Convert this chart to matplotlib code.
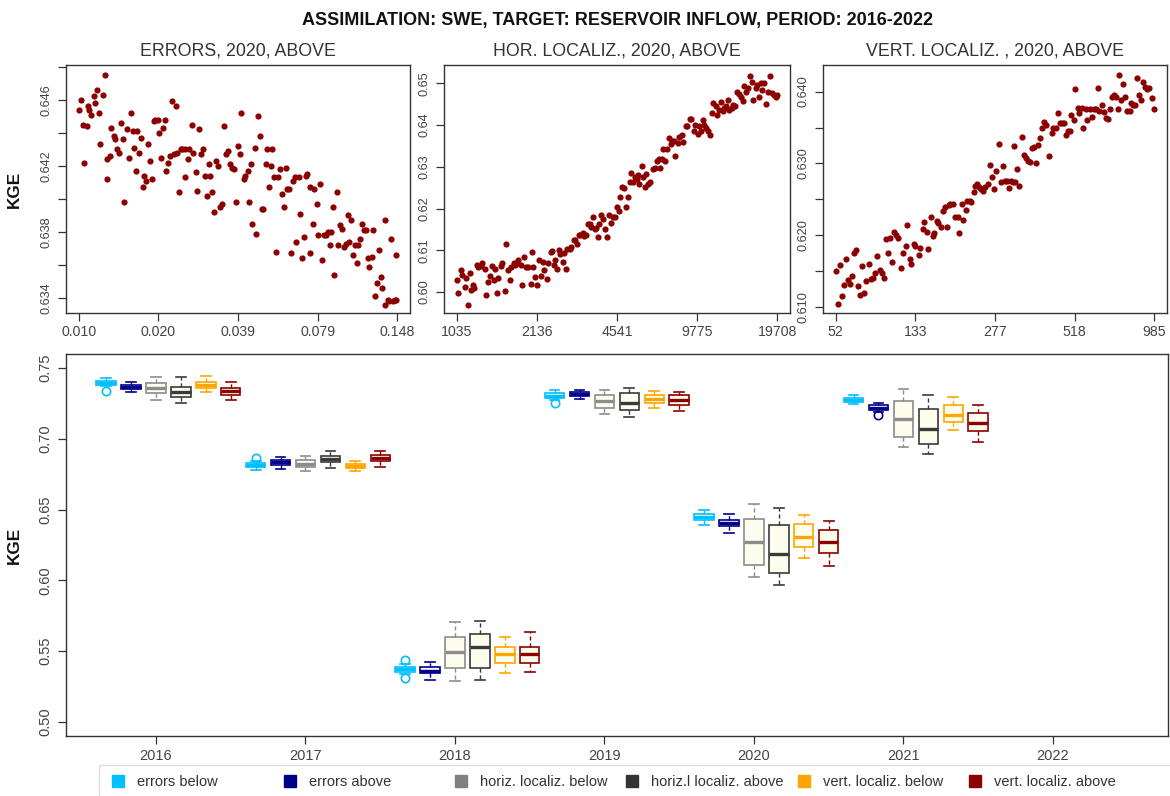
import numpy as np
import matplotlib
matplotlib.use('Agg')
import matplotlib.pyplot as plt
from matplotlib.lines import Line2D
from matplotlib.patches import Rectangle

plt.rcParams['font.family'] = ['Liberation Sans', 'DejaVu Sans']

# ---------------- top row: KGE against parameter value (2020, above) ----------------
# x is the position along the quantile axis, 0..4 = the five tick labels
err_ticklabels = ['0.010', '0.020', '0.039', '0.079', '0.148']
err_pos = [0.00, 0.03, 0.05, 0.07, 0.10, 0.11, 0.13, 0.15, 0.19, 0.21,
           0.23, 0.25, 0.27, 0.30, 0.33, 0.35, 0.36, 0.39, 0.41, 0.44,
           0.46, 0.48, 0.50, 0.53, 0.55, 0.57, 0.61, 0.63, 0.65, 0.68,
           0.69, 0.72, 0.73, 0.76, 0.78, 0.81, 0.82, 0.85, 0.87, 0.90,
           0.92, 0.94, 0.96, 0.99, 1.01, 1.03, 1.06, 1.08, 1.10, 1.12,
           1.15, 1.17, 1.19, 1.22, 1.23, 1.26, 1.28, 1.30, 1.33, 1.34,
           1.37, 1.39, 1.42, 1.44, 1.47, 1.49, 1.51, 1.53, 1.56, 1.58,
           1.61, 1.63, 1.65, 1.67, 1.70, 1.72, 1.75, 1.77, 1.80, 1.82,
           1.85, 1.87, 1.90, 1.92, 1.95, 1.97, 2.00, 2.02, 2.04, 2.07,
           2.09, 2.12, 2.14, 2.16, 2.18, 2.21, 2.23, 2.25, 2.28, 2.30,
           2.32, 2.35, 2.37, 2.39, 2.41, 2.43, 2.45, 2.48, 2.50, 2.53,
           2.55, 2.58, 2.60, 2.62, 2.64, 2.66, 2.69, 2.71, 2.73, 2.76,
           2.78, 2.80, 2.83, 2.85, 2.87, 2.90, 2.91, 2.94, 2.96, 2.99,
           3.01, 3.03, 3.05, 3.08, 3.10, 3.13, 3.15, 3.17, 3.19, 3.21,
           3.24, 3.26, 3.28, 3.31, 3.33, 3.35, 3.38, 3.40, 3.42, 3.44,
           3.47, 3.49, 3.51, 3.53, 3.56, 3.58, 3.61, 3.63, 3.65, 3.68,
           3.70, 3.72, 3.75, 3.77, 3.79, 3.81, 3.84, 3.85, 3.88, 3.90,
           3.92, 3.95, 3.97, 3.99, 3.98]
err_kge = [0.6454, 0.6460, 0.6445, 0.6422, 0.6444, 0.6456, 0.6454, 0.6451, 0.6462, 0.6458,
           0.6466, 0.6452, 0.6433, 0.6463, 0.6475, 0.6412, 0.6424, 0.6426, 0.6443, 0.6438,
           0.6436, 0.6430, 0.6428, 0.6446, 0.6436, 0.6398, 0.6442, 0.6425, 0.6452, 0.6441,
           0.6431, 0.6417, 0.6441, 0.6428, 0.6437, 0.6407, 0.6414, 0.6411, 0.6433, 0.6423,
           0.6412, 0.6447, 0.6448, 0.6448, 0.6440, 0.6425, 0.6443, 0.6448, 0.6417, 0.6422,
           0.6426, 0.6459, 0.6427, 0.6456, 0.6428, 0.6404, 0.6430, 0.6430, 0.6413, 0.6430,
           0.6424, 0.6430, 0.6445, 0.6428, 0.6416, 0.6405, 0.6442, 0.6427, 0.6430, 0.6414,
           0.6402, 0.6421, 0.6414, 0.6404, 0.6392, 0.6423, 0.6420, 0.6395, 0.6397, 0.6444,
           0.6427, 0.6429, 0.6421, 0.6419, 0.6418, 0.6398, 0.6432, 0.6427, 0.6452, 0.6412,
           0.6414, 0.6417, 0.6398, 0.6421, 0.6385, 0.6431, 0.6379, 0.6450, 0.6438, 0.6394,
           0.6394, 0.6421, 0.6430, 0.6407, 0.6420, 0.6430, 0.6413, 0.6368, 0.6413, 0.6418,
           0.6403, 0.6395, 0.6419, 0.6406, 0.6406, 0.6367, 0.6411, 0.6413, 0.6374, 0.6413,
           0.6391, 0.6364, 0.6377, 0.6414, 0.6415, 0.6407, 0.6367, 0.6385, 0.6406, 0.6397,
           0.6378, 0.6409, 0.6363, 0.6378, 0.6378, 0.6380, 0.6372, 0.6380, 0.6395, 0.6354,
           0.6404, 0.6372, 0.6384, 0.6382, 0.6371, 0.6373, 0.6390, 0.6374, 0.6387, 0.6366,
           0.6372, 0.6361, 0.6372, 0.6376, 0.6385, 0.6381, 0.6381, 0.6364, 0.6359, 0.6365,
           0.6381, 0.6341, 0.6349, 0.6369, 0.6353, 0.6346, 0.6387, 0.6336, 0.6339, 0.6338,
           0.6376, 0.6338, 0.6339, 0.6366, 0.6339]

hor_ticklabels = ['1035', '2136', '4541', '9775', '19708']
hor_pos = [0.00, 0.02, 0.05, 0.07, 0.10, 0.12, 0.14, 0.16, 0.18, 0.20,
           0.22, 0.25, 0.27, 0.30, 0.32, 0.35, 0.37, 0.39, 0.41, 0.44,
           0.46, 0.48, 0.50, 0.52, 0.55, 0.57, 0.60, 0.62, 0.64, 0.66,
           0.68, 0.71, 0.73, 0.75, 0.77, 0.80, 0.82, 0.84, 0.87, 0.89,
           0.92, 0.94, 0.95, 0.98, 1.00, 1.02, 1.05, 1.07, 1.09, 1.12,
           1.14, 1.17, 1.19, 1.21, 1.23, 1.25, 1.27, 1.29, 1.32, 1.34,
           1.36, 1.38, 1.41, 1.43, 1.46, 1.48, 1.50, 1.52, 1.54, 1.57,
           1.59, 1.61, 1.64, 1.66, 1.68, 1.70, 1.72, 1.74, 1.76, 1.78,
           1.80, 1.82, 1.85, 1.87, 1.90, 1.92, 1.95, 1.97, 2.00, 2.02,
           2.04, 2.06, 2.09, 2.11, 2.14, 2.16, 2.18, 2.20, 2.22, 2.25,
           2.26, 2.28, 2.31, 2.33, 2.35, 2.36, 2.39, 2.41, 2.45, 2.47,
           2.50, 2.52, 2.54, 2.56, 2.58, 2.60, 2.62, 2.65, 2.67, 2.69,
           2.71, 2.73, 2.76, 2.78, 2.81, 2.83, 2.86, 2.88, 2.91, 2.93,
           2.96, 2.98, 3.01, 3.02, 3.05, 3.07, 3.09, 3.11, 3.14, 3.16,
           3.19, 3.20, 3.23, 3.25, 3.27, 3.30, 3.32, 3.34, 3.36, 3.38,
           3.40, 3.43, 3.45, 3.47, 3.50, 3.52, 3.55, 3.57, 3.59, 3.61,
           3.64, 3.66, 3.69, 3.70, 3.73, 3.75, 3.77, 3.80, 3.81, 3.84,
           3.86, 3.89, 3.91, 3.94, 3.96, 3.98, 4.00]
hor_kge = [0.6028, 0.5998, 0.6053, 0.6041, 0.6012, 0.6033, 0.5970, 0.6047, 0.6006, 0.6017,
           0.6011, 0.6065, 0.6059, 0.6062, 0.6070, 0.6055, 0.5992, 0.6025, 0.6039, 0.6062,
           0.6028, 0.6055, 0.5998, 0.6035, 0.6062, 0.6069, 0.6002, 0.6116, 0.6053, 0.6028,
           0.6061, 0.6069, 0.6066, 0.6069, 0.6077, 0.6066, 0.6017, 0.6085, 0.6061, 0.6059,
           0.6020, 0.6095, 0.6059, 0.6037, 0.6017, 0.6077, 0.6039, 0.6071, 0.6053, 0.6031,
           0.6069, 0.6097, 0.6098, 0.6065, 0.6078, 0.6055, 0.6102, 0.6091, 0.6073, 0.6094,
           0.6055, 0.6104, 0.6104, 0.6108, 0.6126, 0.6124, 0.6116, 0.6138, 0.6136, 0.6142,
           0.6134, 0.6138, 0.6164, 0.6164, 0.6156, 0.6181, 0.6150, 0.6154, 0.6131, 0.6164,
           0.6185, 0.6176, 0.6150, 0.6132, 0.6184, 0.6165, 0.6180, 0.6181, 0.6205, 0.6195,
           0.6229, 0.6251, 0.6249, 0.6203, 0.6227, 0.6263, 0.6286, 0.6263, 0.6275, 0.6271,
           0.6281, 0.6259, 0.6302, 0.6275, 0.6251, 0.6282, 0.6260, 0.6263, 0.6294, 0.6298,
           0.6314, 0.6320, 0.6297, 0.6320, 0.6344, 0.6314, 0.6344, 0.6369, 0.6354, 0.6363,
           0.6362, 0.6326, 0.6358, 0.6371, 0.6377, 0.6360, 0.6399, 0.6399, 0.6415, 0.6415,
           0.6385, 0.6400, 0.6379, 0.6397, 0.6385, 0.6413, 0.6401, 0.6393, 0.6385, 0.6377,
           0.6429, 0.6453, 0.6445, 0.6425, 0.6437, 0.6455, 0.6433, 0.6442, 0.6445, 0.6460,
           0.6437, 0.6441, 0.6447, 0.6445, 0.6480, 0.6474, 0.6468, 0.6458, 0.6494, 0.6480,
           0.6488, 0.6518, 0.6504, 0.6460, 0.6490, 0.6496, 0.6468, 0.6500, 0.6484, 0.6502,
           0.6450, 0.6479, 0.6518, 0.6476, 0.6472, 0.6468, 0.6471]

vert_ticklabels = ['52', '133', '277', '518', '985']
vert_pos = [0.00, 0.03, 0.05, 0.08, 0.10, 0.13, 0.15, 0.18, 0.20, 0.23,
            0.25, 0.28, 0.31, 0.33, 0.36, 0.38, 0.42, 0.44, 0.47, 0.49,
            0.52, 0.55, 0.58, 0.61, 0.63, 0.65, 0.68, 0.71, 0.73, 0.76,
            0.78, 0.82, 0.84, 0.88, 0.90, 0.93, 0.95, 0.98, 1.00, 1.04,
            1.06, 1.09, 1.11, 1.14, 1.16, 1.19, 1.22, 1.24, 1.27, 1.29,
            1.32, 1.35, 1.37, 1.40, 1.42, 1.44, 1.47, 1.50, 1.53, 1.55,
            1.58, 1.60, 1.63, 1.65, 1.68, 1.70, 1.73, 1.75, 1.78, 1.80,
            1.83, 1.85, 1.88, 1.91, 1.94, 1.96, 1.99, 2.01, 2.05, 2.07,
            2.10, 2.12, 2.15, 2.17, 2.20, 2.22, 2.24, 2.25, 2.28, 2.30,
            2.34, 2.36, 2.39, 2.41, 2.44, 2.46, 2.49, 2.51, 2.54, 2.56,
            2.59, 2.61, 2.64, 2.68, 2.71, 2.73, 2.76, 2.79, 2.82, 2.84,
            2.87, 2.89, 2.92, 2.94, 2.96, 2.99, 3.01, 3.04, 3.06, 3.09,
            3.11, 3.14, 3.16, 3.19, 3.22, 3.24, 3.27, 3.29, 3.31, 3.34,
            3.37, 3.39, 3.42, 3.44, 3.47, 3.49, 3.52, 3.54, 3.56, 3.58,
            3.61, 3.63, 3.66, 3.69, 3.71, 3.73, 3.76, 3.78, 3.81, 3.83,
            3.86, 3.88, 3.91, 3.93, 3.97, 4.00]
vert_kge = [0.6150, 0.6105, 0.6159, 0.6116, 0.6131, 0.6167, 0.6138, 0.6133, 0.6143, 0.6176,
            0.6180, 0.6130, 0.6117, 0.6158, 0.6120, 0.6137, 0.6160, 0.6139, 0.6140, 0.6148,
            0.6171, 0.6152, 0.6148, 0.6141, 0.6195, 0.6176, 0.6196, 0.6163, 0.6205, 0.6201,
            0.6196, 0.6154, 0.6176, 0.6185, 0.6214, 0.6167, 0.6160, 0.6188, 0.6185, 0.6173,
            0.6182, 0.6209, 0.6218, 0.6205, 0.6181, 0.6225, 0.6199, 0.6203, 0.6220, 0.6217,
            0.6212, 0.6234, 0.6239, 0.6212, 0.6242, 0.6244, 0.6244, 0.6226, 0.6226, 0.6203,
            0.6244, 0.6222, 0.6235, 0.6248, 0.6248, 0.6247, 0.6260, 0.6269, 0.6272, 0.6267,
            0.6264, 0.6262, 0.6267, 0.6271, 0.6298, 0.6281, 0.6265, 0.6290, 0.6327, 0.6274,
            0.6297, 0.6275, 0.6275, 0.6266, 0.6276, 0.6274, 0.6324, 0.6274, 0.6292, 0.6269,
            0.6337, 0.6312, 0.6308, 0.6303, 0.6302, 0.6321, 0.6323, 0.6300, 0.6326, 0.6335,
            0.6349, 0.6358, 0.6354, 0.6311, 0.6343, 0.6350, 0.6350, 0.6370, 0.6356, 0.6356,
            0.6356, 0.6340, 0.6345, 0.6345, 0.6368, 0.6361, 0.6404, 0.6377, 0.6370, 0.6377,
            0.6349, 0.6376, 0.6360, 0.6376, 0.6364, 0.6376, 0.6376, 0.6405, 0.6373, 0.6381,
            0.6372, 0.6363, 0.6362, 0.6376, 0.6392, 0.6395, 0.6392, 0.6376, 0.6423, 0.6389,
            0.6410, 0.6392, 0.6373, 0.6373, 0.6384, 0.6382, 0.6381, 0.6419, 0.6395, 0.6389,
            0.6414, 0.6407, 0.6404, 0.6405, 0.6391, 0.6376]

# ---------------- bottom: KGE distribution per year and experiment ----------------
years = [2016, 2017, 2018, 2019, 2020, 2021, 2022]
box_years = [2016, 2017, 2018, 2019, 2020, 2021]
series = ['errors below', 'errors above', 'horiz. localiz. below',
          'horiz.l localiz. above', 'vert. localiz. below', 'vert. localiz. above']
colors = ['#00BFFF', '#00008B', '#8C8C8C', '#3A3A3A', '#FFA500', '#8B0000']
legend_colors = ['#00BFFF', '#00008B', '#808080', '#333333', '#FFA500', '#8B0000']

# rows = series, columns = box_years
kge_lo = [[0.7373, 0.6778, 0.5338, 0.7278, 0.6393, 0.7245],
          [0.7328, 0.6789, 0.5297, 0.7283, 0.6334, 0.7193],
          [0.7273, 0.6771, 0.5290, 0.7179, 0.6027, 0.6943],
          [0.7257, 0.6792, 0.5297, 0.7155, 0.5968, 0.6896],
          [0.7332, 0.6773, 0.5342, 0.7219, 0.6157, 0.7066],
          [0.7278, 0.6801, 0.5349, 0.7195, 0.6100, 0.6978]]
kge_q1 = [[0.7382, 0.6801, 0.5354, 0.7292, 0.6424, 0.7262],
          [0.7351, 0.6818, 0.5342, 0.7302, 0.6381, 0.7207],
          [0.7325, 0.6801, 0.5378, 0.7221, 0.6110, 0.7014],
          [0.7297, 0.6834, 0.5378, 0.7203, 0.6053, 0.6962],
          [0.7363, 0.6797, 0.5415, 0.7257, 0.6239, 0.7120],
          [0.7313, 0.6844, 0.5413, 0.7238, 0.6195, 0.7056]]
kge_med = [[0.7396, 0.6815, 0.5371, 0.7306, 0.6447, 0.7278],
           [0.7368, 0.6834, 0.5361, 0.7316, 0.6407, 0.7221],
           [0.7363, 0.6825, 0.5491, 0.7266, 0.6268, 0.7139],
           [0.7332, 0.6858, 0.5526, 0.7257, 0.6183, 0.7068],
           [0.7384, 0.6811, 0.5479, 0.7283, 0.6305, 0.7172],
           [0.7337, 0.6865, 0.5479, 0.7273, 0.6272, 0.7115]]
kge_q3 = [[0.7408, 0.6830, 0.5385, 0.7321, 0.6466, 0.7292],
          [0.7384, 0.6853, 0.5385, 0.7330, 0.6428, 0.7236],
          [0.7396, 0.6848, 0.5602, 0.7309, 0.6431, 0.7266],
          [0.7368, 0.6877, 0.5621, 0.7321, 0.6393, 0.7212],
          [0.7403, 0.6825, 0.5526, 0.7309, 0.6400, 0.7240],
          [0.7361, 0.6884, 0.5531, 0.7309, 0.6357, 0.7186]]
kge_hi = [[0.7432, 0.6844, 0.5408, 0.7344, 0.6494, 0.7313],
          [0.7403, 0.6872, 0.5420, 0.7344, 0.6471, 0.7257],
          [0.7439, 0.6877, 0.5704, 0.7349, 0.6537, 0.7356],
          [0.7439, 0.6915, 0.5715, 0.7361, 0.6513, 0.7309],
          [0.7443, 0.6844, 0.5602, 0.7339, 0.6459, 0.7297],
          [0.7403, 0.6912, 0.5637, 0.7332, 0.6419, 0.7243]]
# outliers: (series index, year, KGE)
outliers = [(0, 2016, 0.7337), (0, 2017, 0.6867), (0, 2018, 0.5439),
            (0, 2018, 0.5309), (0, 2019, 0.7254), (1, 2021, 0.7167)]

TXT = '#333333'
TICK = '#444444'
SCAT = '#8B0000'
FILL = '#FDFDEE'

fig = plt.figure(figsize=(11.7, 7.96), dpi=100)
W, H = 1170.0, 796.0


def px_axes(left, top, right, bottom):
    return fig.add_axes([left / W, 1 - bottom / H, (right - left) / W, (bottom - top) / H])


def r_style(ax, xsize, ysize):
    for s in ax.spines.values():
        s.set_color('#333333')
        s.set_linewidth(1.0)
    ax.tick_params(direction='out', length=5.5, width=0.9, color='#333333', labelcolor=TICK)
    ax.tick_params(axis='x', pad=3, labelsize=xsize)
    ax.tick_params(axis='y', pad=4, labelsize=ysize, labelrotation=90)
    for lbl in ax.get_yticklabels():
        lbl.set_verticalalignment('center')


def scatter_panel(ax, pos, kge, xlabels, title, yticks, ylabels, ylim):
    ax.scatter(pos, kge, s=20, color=SCAT, linewidths=0, zorder=3)
    ax.set_xlim(-0.16, 4.16)
    ax.set_ylim(*ylim)
    ax.set_xticks(range(len(xlabels)))
    ax.set_xticklabels(xlabels)
    ax.set_yticks(yticks)
    ax.set_yticklabels(ylabels)
    ax.set_title(title, fontsize=12.8, color=TXT, pad=7)
    r_style(ax, 10.2, 9.2)


ax1 = px_axes(66, 65, 410, 313)
t1 = [0.634, 0.636, 0.638, 0.640, 0.642, 0.644, 0.646, 0.648]
scatter_panel(ax1, err_pos, err_kge, err_ticklabels, 'ERRORS, 2020, ABOVE', t1,
              ['0.634', '', '0.638', '', '0.642', '', '0.646', ''], (0.6331, 0.6481))
ax1.set_ylabel('KGE', fontsize=12.3, fontweight='bold', color='#111111')
ax1.yaxis.set_label_coords(-0.128, 0.5)

ax2 = px_axes(444, 65, 790, 313)
t2 = [0.60, 0.61, 0.62, 0.63, 0.64, 0.65]
scatter_panel(ax2, hor_pos, hor_kge, hor_ticklabels, 'HOR. LOCALIZ., 2020, ABOVE', t2,
              ['0.60', '0.61', '0.62', '0.63', '0.64', '0.65'], (0.5950, 0.6544))

ax3 = px_axes(823, 65, 1167, 313)
t3 = [0.610, 0.615, 0.620, 0.625, 0.630, 0.635, 0.640]
scatter_panel(ax3, vert_pos, vert_kge, vert_ticklabels, 'VERT. LOCALIZ. , 2020, ABOVE', t3,
              ['0.610', '', '0.620', '', '0.630', '', '0.640'], (0.6092, 0.6437))

# ---------------- boxplots ----------------
axb = px_axes(66, 354, 1168, 736)
offsets = (np.arange(len(series)) - 2) / 6.0
for i, c in enumerate(colors):
    stats = []
    for j, yr in enumerate(box_years):
        stats.append(dict(med=kge_med[i][j], q1=kge_q1[i][j], q3=kge_q3[i][j],
                          whislo=kge_lo[i][j], whishi=kge_hi[i][j],
                          fliers=[v for (k, y, v) in outliers if k == i and y == yr]))
    axb.bxp(stats, positions=np.array(box_years) + offsets[i], widths=0.13,
            capwidths=0.065, patch_artist=True, manage_ticks=False,
            boxprops=dict(facecolor=FILL, edgecolor=c, linewidth=1.2),
            medianprops=dict(color=c, linewidth=2.4, solid_capstyle='butt'),
            whiskerprops=dict(color=c, linewidth=1.0, linestyle=(0, (3, 2))),
            capprops=dict(color=c, linewidth=1.2),
            flierprops=dict(marker='o', markerfacecolor='none', markeredgecolor=c,
                            markersize=6, markeredgewidth=1.2))

axb.set_xlim(2015.398, 2022.77)
axb.set_ylim(0.49, 0.76)
axb.set_xticks(years)
axb.set_xticklabels([str(y) for y in years])
axb.set_yticks([0.50, 0.55, 0.60, 0.65, 0.70, 0.75])
axb.set_yticklabels(['0.50', '0.55', '0.60', '0.65', '0.70', '0.75'])
r_style(axb, 10.5, 10.5)
axb.tick_params(axis='x', pad=4)
axb.set_ylabel('KGE', fontsize=12.3, fontweight='bold', color='#111111')
axb.yaxis.set_label_coords(-0.040, 0.5)

# legend below the plot: evenly spaced entries inside one light frame
fig.add_artist(Rectangle((99 / W, -0.01), (1175 - 99) / W, 0.01 + 31 / H,
                         transform=fig.transFigure, facecolor='white',
                         edgecolor='#DDDDDD', linewidth=1.0))
for i, (lab, c) in enumerate(zip(series, legend_colors)):
    h = Line2D([], [], marker='s', linestyle='none', color=c, markersize=8)
    leg = fig.legend([h], [lab], loc='upper left',
                     bbox_to_anchor=((111 + i * 171.4) / W, 1 - 775 / H),
                     frameon=False, fontsize=10.5, handlelength=1.0,
                     handletextpad=0.8, borderpad=0, borderaxespad=0)
    for t in leg.get_texts():
        t.set_color(TXT)

fig.text(0.528, 1 - 20 / H, 'ASSIMILATION: SWE, TARGET: RESERVOIR INFLOW, PERIOD: 2016-2022',
         ha='center', va='center', fontsize=13, fontweight='bold', color='#111111')

fig.savefig('out.png', dpi=100)
